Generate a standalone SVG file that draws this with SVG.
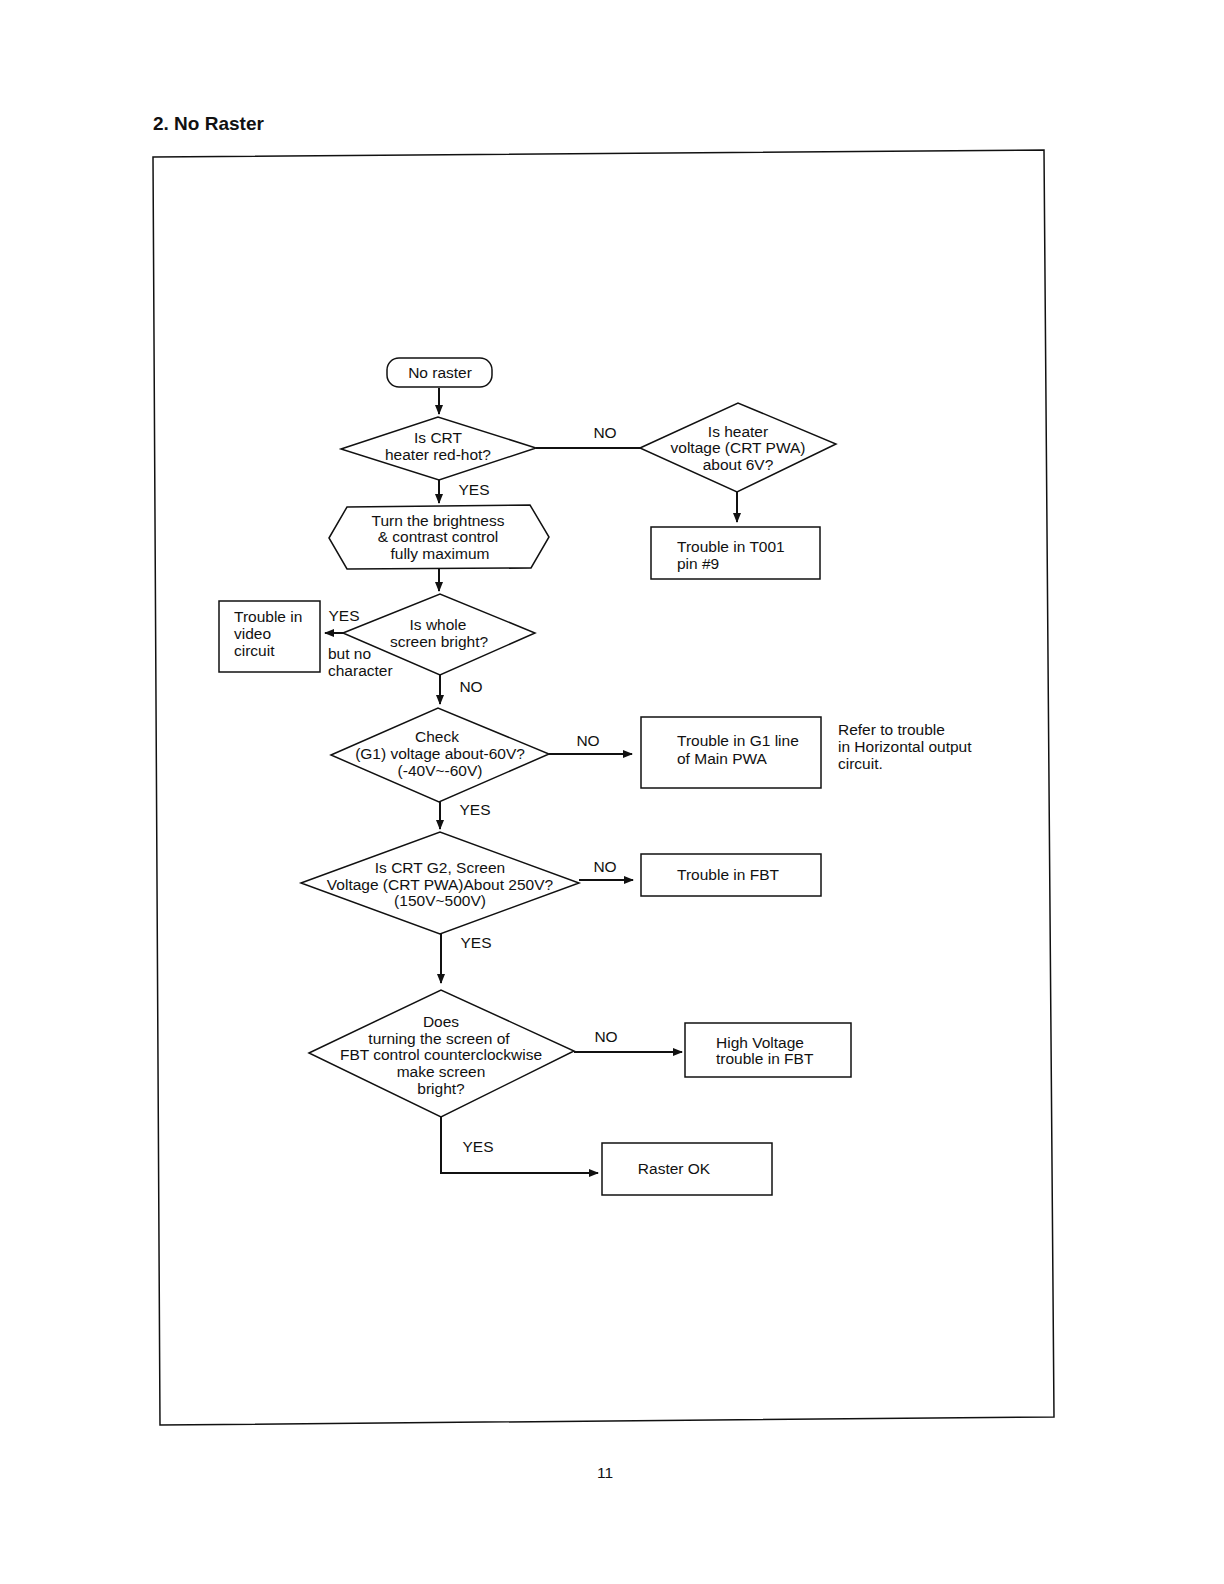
<svg xmlns="http://www.w3.org/2000/svg" width="1224" height="1584" viewBox="0 0 1224 1584">
<style>
.t{font-family:"Liberation Sans",Arial,sans-serif;font-size:15.5px;fill:#111}
.c{text-anchor:middle}
.s{fill:#fff;stroke:#111;stroke-width:1.5}
.l{fill:none;stroke:#111;stroke-width:2}
</style>
<defs>
<marker id="ah" viewBox="0 0 10 10" refX="9" refY="5" markerWidth="10" markerHeight="10" markerUnits="userSpaceOnUse" orient="auto">
<path d="M0,1 L10,5 L0,9 Z" fill="#111"/>
</marker>
</defs>
<rect width="1224" height="1584" fill="#fff"/>
<text x="153" y="130" font-family="Liberation Sans,Arial,sans-serif" font-size="19" font-weight="bold" fill="#111">2. No Raster</text>
<polygon points="153,157 1044,150 1054,1417 160,1425" fill="none" stroke="#111" stroke-width="1.5"/>
<text x="605" y="1478" class="t c">11</text>

<g id="connectors">
<line class="l" x1="439" y1="388" x2="439" y2="414" marker-end="url(#ah)"/>
<line class="l" x1="536" y1="448" x2="640" y2="448"/>
<line class="l" x1="737" y1="492" x2="737" y2="522" marker-end="url(#ah)"/>
<line class="l" x1="439" y1="480" x2="439" y2="503" marker-end="url(#ah)"/>
<line class="l" x1="439" y1="569" x2="439" y2="591" marker-end="url(#ah)"/>
<line class="l" x1="343" y1="633" x2="325" y2="633" marker-end="url(#ah)"/>
<line class="l" x1="440" y1="675" x2="440" y2="704" marker-end="url(#ah)"/>
<line class="l" x1="549" y1="754" x2="632" y2="754" marker-end="url(#ah)"/>
<line class="l" x1="440" y1="802" x2="440" y2="829" marker-end="url(#ah)"/>
<line class="l" x1="579" y1="880" x2="633" y2="880" marker-end="url(#ah)"/>
<line class="l" x1="441" y1="934" x2="441" y2="983" marker-end="url(#ah)"/>
<line class="l" x1="574" y1="1052" x2="682" y2="1052" marker-end="url(#ah)"/>
<polyline class="l" points="441,1117 441,1173 598,1173" marker-end="url(#ah)"/>
<text x="605" y="438" class="t c">NO</text>
<text x="474" y="495" class="t c">YES</text>
<text x="344" y="621" class="t c">YES</text>
<text x="328" y="659" class="t">but no</text>
<text x="328" y="676" class="t">character</text>
<text x="471" y="692" class="t c">NO</text>
<text x="588" y="746" class="t c">NO</text>
<text x="475" y="815" class="t c">YES</text>
<text x="605" y="872" class="t c">NO</text>
<text x="476" y="948" class="t c">YES</text>
<text x="606" y="1042" class="t c">NO</text>
<text x="478" y="1152" class="t c">YES</text>
</g>

<g id="n_start">
<rect class="s" x="387" y="358" width="105" height="29" rx="12"/>
<text x="440" y="378" class="t c">No raster</text>
</g>
<g id="n_crt_hot">
<polygon class="s" points="341,449 438,417 536,448 439,480"/>
<text x="438" y="443" class="t c">Is CRT</text>
<text x="438" y="460" class="t c">heater red-hot?</text>
</g>
<g id="n_heater_v">
<polygon class="s" points="640,448 738,403 836,444 737,492"/>
<text x="738" y="437" class="t c">Is heater</text>
<text x="738" y="453" class="t c">voltage (CRT PWA)</text>
<text x="738" y="470" class="t c">about 6V?</text>
</g>
<g id="n_t001">
<rect class="s" x="651" y="527" width="169" height="52"/>
<text x="677" y="552" class="t">Trouble in T001</text>
<text x="677" y="569" class="t">pin #9</text>
</g>
<g id="n_turn">
<polygon class="s" points="329,538 347,507 530,505 549,537 531,568 347,569"/>
<text x="438" y="526" class="t c">Turn the brightness</text>
<text x="438" y="542" class="t c">&amp; contrast control</text>
<text x="440" y="559" class="t c">fully maximum</text>
</g>
<g id="n_whole">
<polygon class="s" points="343,633 440,594 535,633 440,675"/>
<text x="438" y="630" class="t c">Is whole</text>
<text x="439" y="647" class="t c">screen bright?</text>
</g>
<g id="n_video">
<rect class="s" x="219" y="601" width="101" height="71"/>
<text x="234" y="622" class="t">Trouble in</text>
<text x="234" y="639" class="t">video</text>
<text x="234" y="656" class="t">circuit</text>
</g>
<g id="n_g1">
<polygon class="s" points="331,755 438,708 549,754 439,802"/>
<text x="437" y="742" class="t c">Check</text>
<text x="440" y="759" class="t c">(G1) voltage about-60V?</text>
<text x="440" y="776" class="t c">(-40V~-60V)</text>
</g>
<g id="n_g1_trouble">
<rect class="s" x="641" y="717" width="180" height="71"/>
<text x="677" y="746" class="t">Trouble in G1 line</text>
<text x="677" y="764" class="t">of Main  PWA</text>
<text x="838" y="735" class="t">Refer to trouble</text>
<text x="838" y="752" class="t">in Horizontal output</text>
<text x="838" y="769" class="t">circuit.</text>
</g>
<g id="n_g2">
<polygon class="s" points="301,883 440,832 579,883 440,934"/>
<text x="440" y="873" class="t c">Is CRT G2, Screen</text>
<text x="440" y="890" class="t c">Voltage (CRT PWA)About 250V?</text>
<text x="440" y="906" class="t c">(150V~500V)</text>
</g>
<g id="n_fbt">
<rect class="s" x="641" y="854" width="180" height="42"/>
<text x="728" y="880" class="t c">Trouble in FBT</text>
</g>
<g id="n_turning">
<polygon class="s" points="309,1053 441,990 574,1051 441,1117"/>
<text x="441" y="1027" class="t c">Does</text>
<text x="439" y="1044" class="t c">turning the screen of</text>
<text x="441" y="1060" class="t c">FBT control counterclockwise</text>
<text x="441" y="1077" class="t c">make screen</text>
<text x="441" y="1094" class="t c">bright?</text>
</g>
<g id="n_hv">
<rect class="s" x="685" y="1023" width="166" height="54"/>
<text x="716" y="1048" class="t">High Voltage</text>
<text x="716" y="1064" class="t">trouble in FBT</text>
</g>
<g id="n_ok">
<rect class="s" x="602" y="1143" width="170" height="52"/>
<text x="674" y="1174" class="t c">Raster OK</text>
</g>
</svg>
